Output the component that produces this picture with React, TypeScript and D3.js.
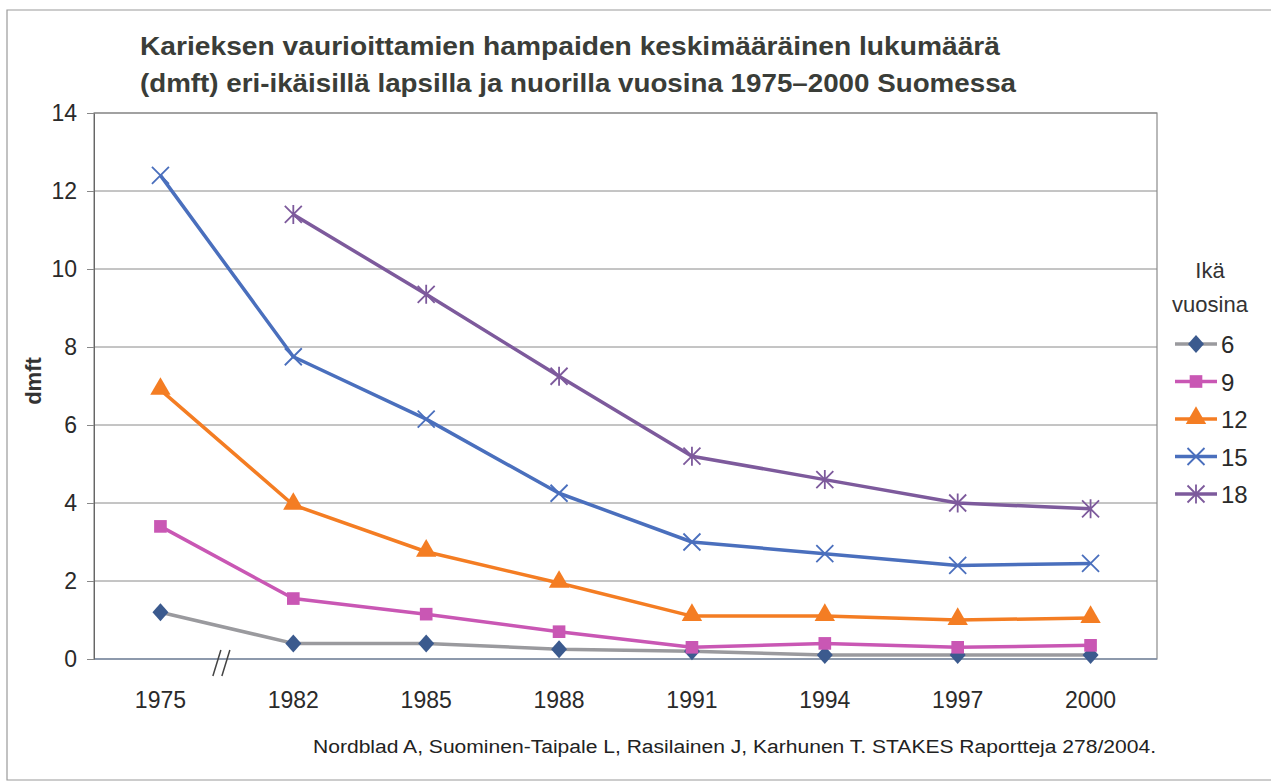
import React, { useEffect, useRef } from "react";
import * as d3 from "d3";

// Data
const years = ["1975", "1982", "1985", "1988", "1991", "1994", "1997", "2000"];
const age6 = [1.2, 0.4, 0.4, 0.25, 0.2, 0.1, 0.1, 0.1];
const age9 = [3.4, 1.55, 1.15, 0.7, 0.3, 0.4, 0.3, 0.35];
const age12 = [6.9, 3.95, 2.75, 1.95, 1.1, 1.1, 1.0, 1.05];
const age15 = [12.4, 7.75, 6.15, 4.25, 3.0, 2.7, 2.4, 2.45];
const age18: (number | null)[] = [null, 11.4, 9.35, 7.25, 5.2, 4.6, 4.0, 3.85];
const yTicks = [0, 2, 4, 6, 8, 10, 12, 14];

const series = [
  { name: "6", values: age6, line: "#9a9a9e", marker: "#3b5a8e", shape: "diamond" },
  { name: "9", values: age9, line: "#c957b4", marker: "#c957b4", shape: "square" },
  { name: "12", values: age12, line: "#f47d23", marker: "#f47d23", shape: "triangle" },
  { name: "15", values: age15, line: "#4a6fbd", marker: "#4a6fbd", shape: "cross" },
  { name: "18", values: age18, line: "#7d5a9c", marker: "#7d5a9c", shape: "star" },
];

const font = "'Liberation Sans', Arial, sans-serif";
const narrow = "'Liberation Sans Narrow', 'Liberation Sans', Arial, sans-serif";

const drawMarker = (g: any, shape: string, cx: number, cy: number, color: string) => {
  if (shape === "diamond") {
    g.append("path")
      .attr("d", `M${cx},${cy - 9}L${cx + 8},${cy}L${cx},${cy + 9}L${cx - 8},${cy}Z`)
      .attr("fill", color);
  } else if (shape === "square") {
    g.append("path")
      .attr("d", d3.symbol(d3.symbolSquare, 160)())
      .attr("transform", `translate(${cx},${cy})`)
      .attr("fill", color);
  } else if (shape === "triangle") {
    g.append("path")
      .attr("d", d3.symbol(d3.symbolTriangle, 180)())
      .attr("transform", `translate(${cx},${cy - 1})`)
      .attr("fill", color);
  } else if (shape === "cross") {
    const r = 8.5;
    g.append("path")
      .attr("d", `M${cx - r},${cy - r}L${cx + r},${cy + r}M${cx - r},${cy + r}L${cx + r},${cy - r}`)
      .attr("stroke", color)
      .attr("stroke-width", 1.8)
      .attr("fill", "none");
  } else {
    const r = 8.5;
    g.append("path")
      .attr("d", `M${cx - r},${cy - r}L${cx + r},${cy + r}M${cx - r},${cy + r}L${cx + r},${cy - r}M${cx},${cy - r - 1}L${cx},${cy + r + 1}`)
      .attr("stroke", color)
      .attr("stroke-width", 1.8)
      .attr("fill", "none");
  }
};

const App = () => {
  const ref = useRef<SVGSVGElement>(null);

  useEffect(() => {
    if (!ref.current) return;
    const svg = d3.select(ref.current);
    svg.selectAll("*").remove();

    const left = 94, right = 1157, top = 113, bottom = 659;

    const x = d3.scaleBand().domain(years).range([left, right]).padding(0);
    const y = d3.scaleLinear().domain([0, 14]).range([bottom, top]);
    const cx = (d: string) => (x(d) || 0) + x.bandwidth() / 2;

    // outer frame
    svg.append("path")
      .attr("d", "M1271,10L7,10L7,780L1271,780")
      .attr("fill", "none")
      .attr("stroke", "#9a9a9a")
      .attr("stroke-width", 1.2);

    // title
    const title = svg.append("g")
      .style("font-family", narrow)
      .style("font-weight", "bold")
      .style("font-size", "26px")
      .attr("fill", "#3a3d38");
    title.append("text").attr("x", 140).attr("y", 55)
      .attr("textLength", 860).attr("lengthAdjust", "spacingAndGlyphs")
      .text("Karieksen vaurioittamien hampaiden keskimääräinen lukumäärä");
    title.append("text").attr("x", 140).attr("y", 92)
      .attr("textLength", 876).attr("lengthAdjust", "spacingAndGlyphs")
      .text("(dmft) eri-ikäisillä lapsilla ja nuorilla vuosina 1975–2000 Suomessa");

    // gridlines
    svg.append("g")
      .selectAll("line")
      .data(yTicks.filter(t => t > 0))
      .enter()
      .append("line")
      .attr("x1", left).attr("x2", right)
      .attr("y1", d => y(d)).attr("y2", d => y(d))
      .attr("stroke", "#8a8a8a")
      .attr("stroke-width", 1);

    // plot box
    svg.append("rect")
      .attr("x", left).attr("y", top)
      .attr("width", right - left).attr("height", bottom - top)
      .attr("fill", "none")
      .attr("stroke", "#8a8a8a")
      .attr("stroke-width", 1.2);

    // zero axis line
    svg.append("line")
      .attr("x1", left).attr("x2", right)
      .attr("y1", y(0)).attr("y2", y(0))
      .attr("stroke", "#7f8fa8").attr("stroke-width", 1.3);

    // y axis
    const yAxis = svg.append("g")
      .attr("transform", `translate(${left},0)`)
      .call(d3.axisLeft(y).tickValues(yTicks).tickSize(7).tickSizeOuter(0).tickPadding(10));
    yAxis.select(".domain").attr("stroke", "#666");
    yAxis.selectAll("line").attr("stroke", "#888");
    yAxis.selectAll("text")
      .style("font-family", font)
      .style("font-size", "23px")
      .attr("fill", "#2a2a2a");

    // x labels
    svg.append("g")
      .selectAll("text")
      .data(years)
      .enter()
      .append("text")
      .attr("x", d => cx(d))
      .attr("y", 708)
      .attr("text-anchor", "middle")
      .style("font-family", font)
      .style("font-size", "23px")
      .attr("fill", "#2a2a2a")
      .text(d => d);

    // axis break
    const bx = (cx(years[0]) + cx(years[1])) / 2;
    svg.append("path")
      .attr("d", `M${bx - 14},${y(0) + 17}L${bx - 6},${y(0) - 9}M${bx - 5},${y(0) + 17}L${bx + 3},${y(0) - 9}`)
      .attr("stroke", "#444").attr("stroke-width", 1.5).attr("fill", "none");

    // y axis title
    svg.append("text")
      .attr("transform", `translate(41,${(top + bottom) / 2 - 5}) rotate(-90)`)
      .attr("text-anchor", "middle")
      .style("font-family", font)
      .style("font-weight", "bold")
      .style("font-size", "22px")
      .attr("fill", "#333")
      .text("dmft");

    // series lines and markers
    series.forEach(s => {
      const pts = years.map((yr, i) => ({ yr, v: s.values[i] }));
      const line = d3.line<{ yr: string; v: number | null }>()
        .defined(d => d.v !== null)
        .x(d => cx(d.yr))
        .y(d => y(d.v as number));
      svg.append("path")
        .datum(pts)
        .attr("d", line)
        .attr("fill", "none")
        .attr("stroke", s.line)
        .attr("stroke-width", 3.5)
        .attr("stroke-linejoin", "round");
    });
    series.forEach(s => {
      const g = svg.append("g");
      years.forEach((yr, i) => {
        const v = s.values[i];
        if (v === null) return;
        drawMarker(g, s.shape, cx(yr), y(v), s.marker);
      });
    });

    // legend
    const legend = svg.append("g");
    legend.append("text").attr("x", 1210).attr("y", 278).attr("text-anchor", "middle")
      .style("font-family", font).style("font-size", "22px").attr("fill", "#333").text("Ikä");
    legend.append("text").attr("x", 1210).attr("y", 312).attr("text-anchor", "middle")
      .style("font-family", font).style("font-size", "22px").attr("fill", "#333").text("vuosina");
    series.forEach((s, i) => {
      const ly = 344 + i * 37.5;
      legend.append("line")
        .attr("x1", 1175).attr("x2", 1217)
        .attr("y1", ly).attr("y2", ly)
        .attr("stroke", s.line).attr("stroke-width", 3.5);
      drawMarker(legend, s.shape, 1196, ly, s.marker);
      legend.append("text")
        .attr("x", 1221).attr("y", ly + 9)
        .style("font-family", font).style("font-size", "24px")
        .attr("fill", "#2a2a2a")
        .text(s.name);
    });

    // source
    svg.append("text")
      .attr("x", 313).attr("y", 753)
      .attr("textLength", 843).attr("lengthAdjust", "spacingAndGlyphs")
      .style("font-family", narrow)
      .style("font-size", "18px")
      .attr("fill", "#222")
      .text("Nordblad A, Suominen-Taipale L, Rasilainen J, Karhunen T. STAKES Raportteja 278/2004.");
  }, []);

  return (
    <div style={{ position: "absolute", left: 0, top: 0, width: 1271, height: 784, background: "#fff" }}>
      <svg ref={ref} width={1271} height={784}></svg>
    </div>
  );
};

export default App;
